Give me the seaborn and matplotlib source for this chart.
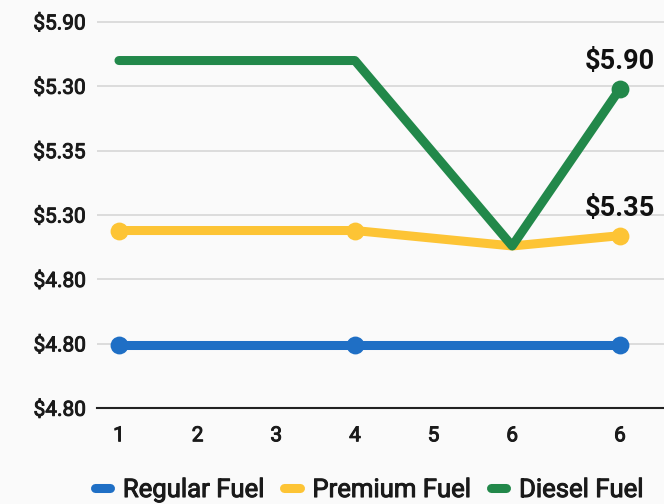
import numpy as np
import pandas as pd
import matplotlib
matplotlib.use("Agg")
import matplotlib.pyplot as plt
import matplotlib.patheffects as pe
import seaborn as sns

# data
x_pos = [1, 4, 6, 7.37]
regular = [4.745, 4.745, 4.745, 4.745]
premium = [5.19, 5.19, 5.13, 5.17]
diesel = [5.85, 5.85, 5.13, 5.74]

series_names = ["Regular Fuel", "Premium Fuel", "Diesel Fuel"]
series_colors = ["#1f6fc5", "#fdc435", "#22884a"]
# which points carry a dot in each series
series_dots = {"Regular Fuel": [0, 1, 3], "Premium Fuel": [0, 1, 3], "Diesel Fuel": [3]}

x_ticks = [1, 2, 3, 4, 5, 6, 7.37]
x_tick_labels = ["1", "2", "3", "4", "5", "6", "6"]
y_ticks = [4.50, 4.75, 5.00, 5.25, 5.50, 5.75, 6.00]
y_tick_labels = ["$4.80", "$4.80", "$4.80", "$5.30", "$5.35", "$5.30", "$5.90"]

end_labels = {"Diesel Fuel": "$5.90", "Premium Fuel": "$5.35"}

df = pd.DataFrame({
    "x": x_pos * 3,
    "price": regular + premium + diesel,
    "fuel": np.repeat(series_names, len(x_pos)),
})

sns.set_theme(style="whitegrid")
plt.rcParams["font.family"] = ["Roboto", "DejaVu Sans"]

fig = plt.figure(figsize=(6.64, 5.04), dpi=100, facecolor="#fafafa")
ax = fig.add_axes([0.146, 0.19, 0.854, 0.81])
ax.set_facecolor("#fafafa")

thick = [pe.withStroke(linewidth=0.7, foreground="#1a1a1a")]

for name, color in zip(series_names, series_colors):
    sub = df[df["fuel"] == name]
    sns.lineplot(data=sub, x="x", y="price", ax=ax, color=color, linewidth=6.5,
                 solid_capstyle="round", label=name)
    dots = sub.iloc[series_dots[name]]
    sns.scatterplot(data=dots, x="x", y="price", ax=ax, color=color, s=165,
                    linewidth=0, zorder=3, legend=False)
    if name in end_labels:
        ax.annotate(end_labels[name], (sub["x"].iloc[-1], sub["price"].iloc[-1]),
                    xytext=(0, 10), textcoords="offset points", ha="center", va="bottom",
                    fontsize=19.5, fontweight="bold", color="#111111")

ax.set_xlim(0.72, 7.93)
ax.set_ylim(4.50, 6.085)
ax.set_xticks(x_ticks)
ax.set_xticklabels(x_tick_labels)
ax.set_yticks(y_ticks)
ax.set_yticklabels(y_tick_labels)
ax.tick_params(axis="both", labelsize=15, colors="#1a1a1a", length=0)
ax.tick_params(axis="x", pad=13)
ax.tick_params(axis="y", pad=8)
for lab in ax.get_xticklabels() + ax.get_yticklabels():
    lab.set_path_effects(thick)
ax.set_xlabel("")
ax.set_ylabel("")
ax.grid(axis="x", visible=False)
ax.grid(axis="y", color="#d6d6d6", linewidth=1.2)
for side in ["left", "right", "top"]:
    ax.spines[side].set_visible(False)
ax.spines["bottom"].set_color("#222222")
ax.spines["bottom"].set_linewidth(1.5)

handles, labels = ax.get_legend_handles_labels()
ax.legend_.remove()
leg = fig.legend(handles, labels, loc="lower center", bbox_to_anchor=(0.556, -0.042),
                 ncol=3, frameon=False, handlelength=0.6, handletextpad=0.5,
                 columnspacing=0.75, prop={"size": 18.5})
for t in leg.get_texts():
    t.set_color("#1a1a1a")
    t.set_path_effects(thick)

fig.savefig("out.png", dpi=100, facecolor=fig.get_facecolor())
